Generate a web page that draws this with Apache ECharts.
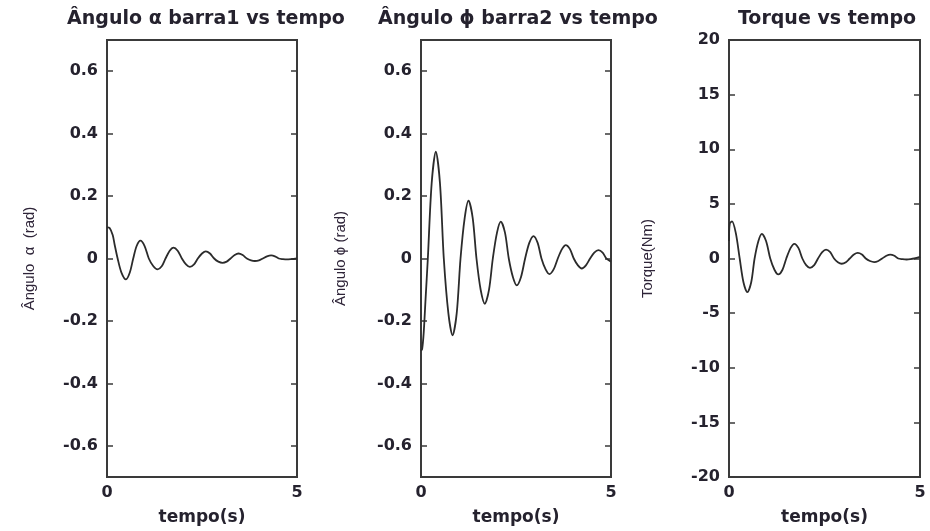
<!DOCTYPE html>
<html>
<head>
<meta charset="utf-8">
<script src="https://cdn.jsdelivr.net/npm/echarts@6/dist/echarts.min.js"></script>
<style>html,body{margin:0;padding:0;background:#fff}#c{width:930px;height:531px}</style>
</head>
<body>
<div id="c"></div>
<script>
// ---- data ----
const titles = ['Ângulo α barra1 vs tempo', 'Ângulo ϕ barra2 vs tempo', 'Torque vs tempo'];
const yNames = ['Ângulo  α  (rad)', 'Ângulo ϕ (rad)', 'Torque(Nm)'];
const xName = 'tempo(s)';
const angleTicks = [-0.6, -0.4, -0.2, 0, 0.2, 0.4, 0.6];

const tAlpha = [0, 0.07, 0.15, 0.2, 0.28, 0.38, 0.5, 0.6, 0.69, 0.78, 0.88, 0.99, 1.1, 1.22, 1.33, 1.44, 1.54, 1.65, 1.75, 1.86, 1.97, 2.08, 2.18, 2.29, 2.39, 2.5, 2.6, 2.71, 2.82, 2.93, 3.04, 3.15, 3.25, 3.36, 3.46, 3.57, 3.68, 3.79, 3.89, 4.0, 4.1, 4.21, 4.32, 4.42, 4.52, 4.63, 4.73, 4.85, 5.0];
const alpha  = [0.10, 0.098, 0.075, 0.045, 0, -0.045, -0.067, -0.045, 0, 0.04, 0.057, 0.04, 0, -0.025, -0.035, -0.025, 0, 0.025, 0.035, 0.025, 0, -0.019, -0.027, -0.019, 0, 0.016, 0.023, 0.016, 0, -0.01, -0.014, -0.01, 0, 0.011, 0.016, 0.011, 0, -0.006, -0.008, -0.006, 0, 0.007, 0.010, 0.007, 0, -0.002, -0.003, -0.002, 0.0];

const tPhi = [0, 0.03, 0.07, 0.12, 0.18, 0.28, 0.39, 0.5, 0.6, 0.72, 0.83, 0.94, 1.04, 1.15, 1.25, 1.36, 1.46, 1.57, 1.68, 1.79, 1.89, 2.0, 2.1, 2.21, 2.31, 2.42, 2.52, 2.63, 2.74, 2.85, 2.96, 3.07, 3.17, 3.28, 3.38, 3.49, 3.6, 3.71, 3.81, 3.92, 4.02, 4.13, 4.23, 4.34, 4.45, 4.56, 4.67, 4.78, 4.88, 5.0];
const phi  = [-0.295, -0.29, -0.24, -0.13, 0, 0.24, 0.342, 0.24, 0, -0.175, -0.246, -0.175, 0, 0.13, 0.185, 0.13, 0, -0.1, -0.145, -0.1, 0, 0.083, 0.118, 0.083, 0, -0.06, -0.086, -0.06, 0, 0.05, 0.072, 0.05, 0, -0.035, -0.05, -0.035, 0, 0.03, 0.043, 0.03, 0, -0.022, -0.032, -0.022, 0, 0.019, 0.027, 0.019, 0, -0.01];

const tTorque = [0, 0.02, 0.08, 0.18, 0.28, 0.38, 0.48, 0.58, 0.67, 0.77, 0.86, 0.97, 1.08, 1.19, 1.29, 1.4, 1.5, 1.61, 1.71, 1.82, 1.92, 2.02, 2.12, 2.23, 2.33, 2.44, 2.54, 2.65, 2.75, 2.85, 2.95, 3.06, 3.16, 3.27, 3.37, 3.48, 3.58, 3.69, 3.8, 3.91, 4.01, 4.12, 4.22, 4.33, 4.43, 4.54, 4.65, 4.75, 4.85, 5.0];
const torque  = [1.6, 3.2, 3.4, 2.3, 0, -2.2, -3.08, -2.2, 0, 1.6, 2.25, 1.6, 0, -1.03, -1.46, -1.03, 0, 0.95, 1.34, 0.95, 0, -0.6, -0.85, -0.6, 0, 0.58, 0.82, 0.58, 0, -0.34, -0.48, -0.34, 0, 0.36, 0.51, 0.36, 0, -0.23, -0.33, -0.23, 0, 0.25, 0.36, 0.25, 0, -0.06, -0.09, -0.06, 0, 0.15];

// ---- layout / style ----
const grids = [
  {left: 107, right: 633, top: 40, bottom: 54},
  {left: 421, right: 319, top: 40, bottom: 54},
  {left: 729, right: 10, top: 40, bottom: 54}
];
const titleCenters = [201, 513, 822];
const nameGaps = [70, 73, 74];
const frame = '#3a3a3a';
const txt = '#25222e';
const tickFont = {fontFamily: 'DejaVu Sans', fontWeight: 'bold', fontSize: 16, color: txt};

const chart = echarts.init(document.getElementById('c'), null, {renderer: 'canvas'});

const pairs = (ts, vs) => ts.map((t, i) => [t, vs[i]]);
const series = [pairs(tAlpha, alpha), pairs(tPhi, phi), pairs(tTorque, torque)];

const xAxis = [], yAxis = [], seriesOpt = [];
grids.forEach((g, i) => {
  xAxis.push({
    type: 'value', gridIndex: i, min: 0, max: 5, interval: 5,
    name: xName, nameLocation: 'middle', nameGap: 32,
    nameTextStyle: {fontFamily: 'DejaVu Sans', fontWeight: 'bold', fontSize: 17, color: txt},
    axisLine: {show: true, onZero: false, lineStyle: {color: frame, width: 2}},
    axisTick: {show: false},
    splitLine: {show: false},
    axisLabel: Object.assign({margin: 8}, tickFont)
  });
  const isAngle = i < 2;
  const yBase = {
    type: 'value', gridIndex: i,
    min: isAngle ? -0.7 : -20, max: isAngle ? 0.7 : 20,
    splitLine: {show: false},
    axisLine: {show: true, onZero: false, lineStyle: {color: frame, width: 2}}
  };
  if (!isAngle) yBase.interval = 5;
  const tickCfg = {show: true, inside: true, length: 6, lineStyle: {color: frame, width: 1.5}};
  if (isAngle) tickCfg.customValues = angleTicks;
  const labelCfg = Object.assign({margin: 9, formatter: v => (isAngle ? (v === 0 ? '0' : v.toFixed(1)) : String(v))}, tickFont);
  if (isAngle) labelCfg.customValues = angleTicks;
  yAxis.push(Object.assign({}, yBase, {
    position: 'left',
    name: yNames[i], nameLocation: 'middle', nameGap: nameGaps[i], nameRotate: 90,
    nameTextStyle: {fontFamily: 'Liberation Sans', fontSize: 15, color: '#2e2438'},
    axisTick: tickCfg, axisLabel: labelCfg
  }));
  yAxis.push(Object.assign({}, yBase, {
    position: 'right',
    axisTick: tickCfg, axisLabel: {show: false}
  }));
  seriesOpt.push({
    type: 'line', xAxisIndex: i, yAxisIndex: 2 * i, data: series[i],
    smooth: 0.3, showSymbol: false, symbol: 'none',
    lineStyle: {color: '#2b2b2b', width: 1.8}
  });
});
const gridOpt = grids.map(g => Object.assign({show: true, borderColor: frame, borderWidth: 2, backgroundColor: 'transparent'}, g));

chart.setOption({
  animation: false,
  title: titles.map((t, i) => ({
    text: t, left: titleCenters[i], top: 5, textAlign: 'center',
    textStyle: {fontFamily: 'DejaVu Sans', fontWeight: 'bold', fontSize: 19, color: txt}
  })),
  grid: gridOpt,
  xAxis: xAxis,
  yAxis: yAxis,
  series: seriesOpt
});
</script>
</body>
</html>
